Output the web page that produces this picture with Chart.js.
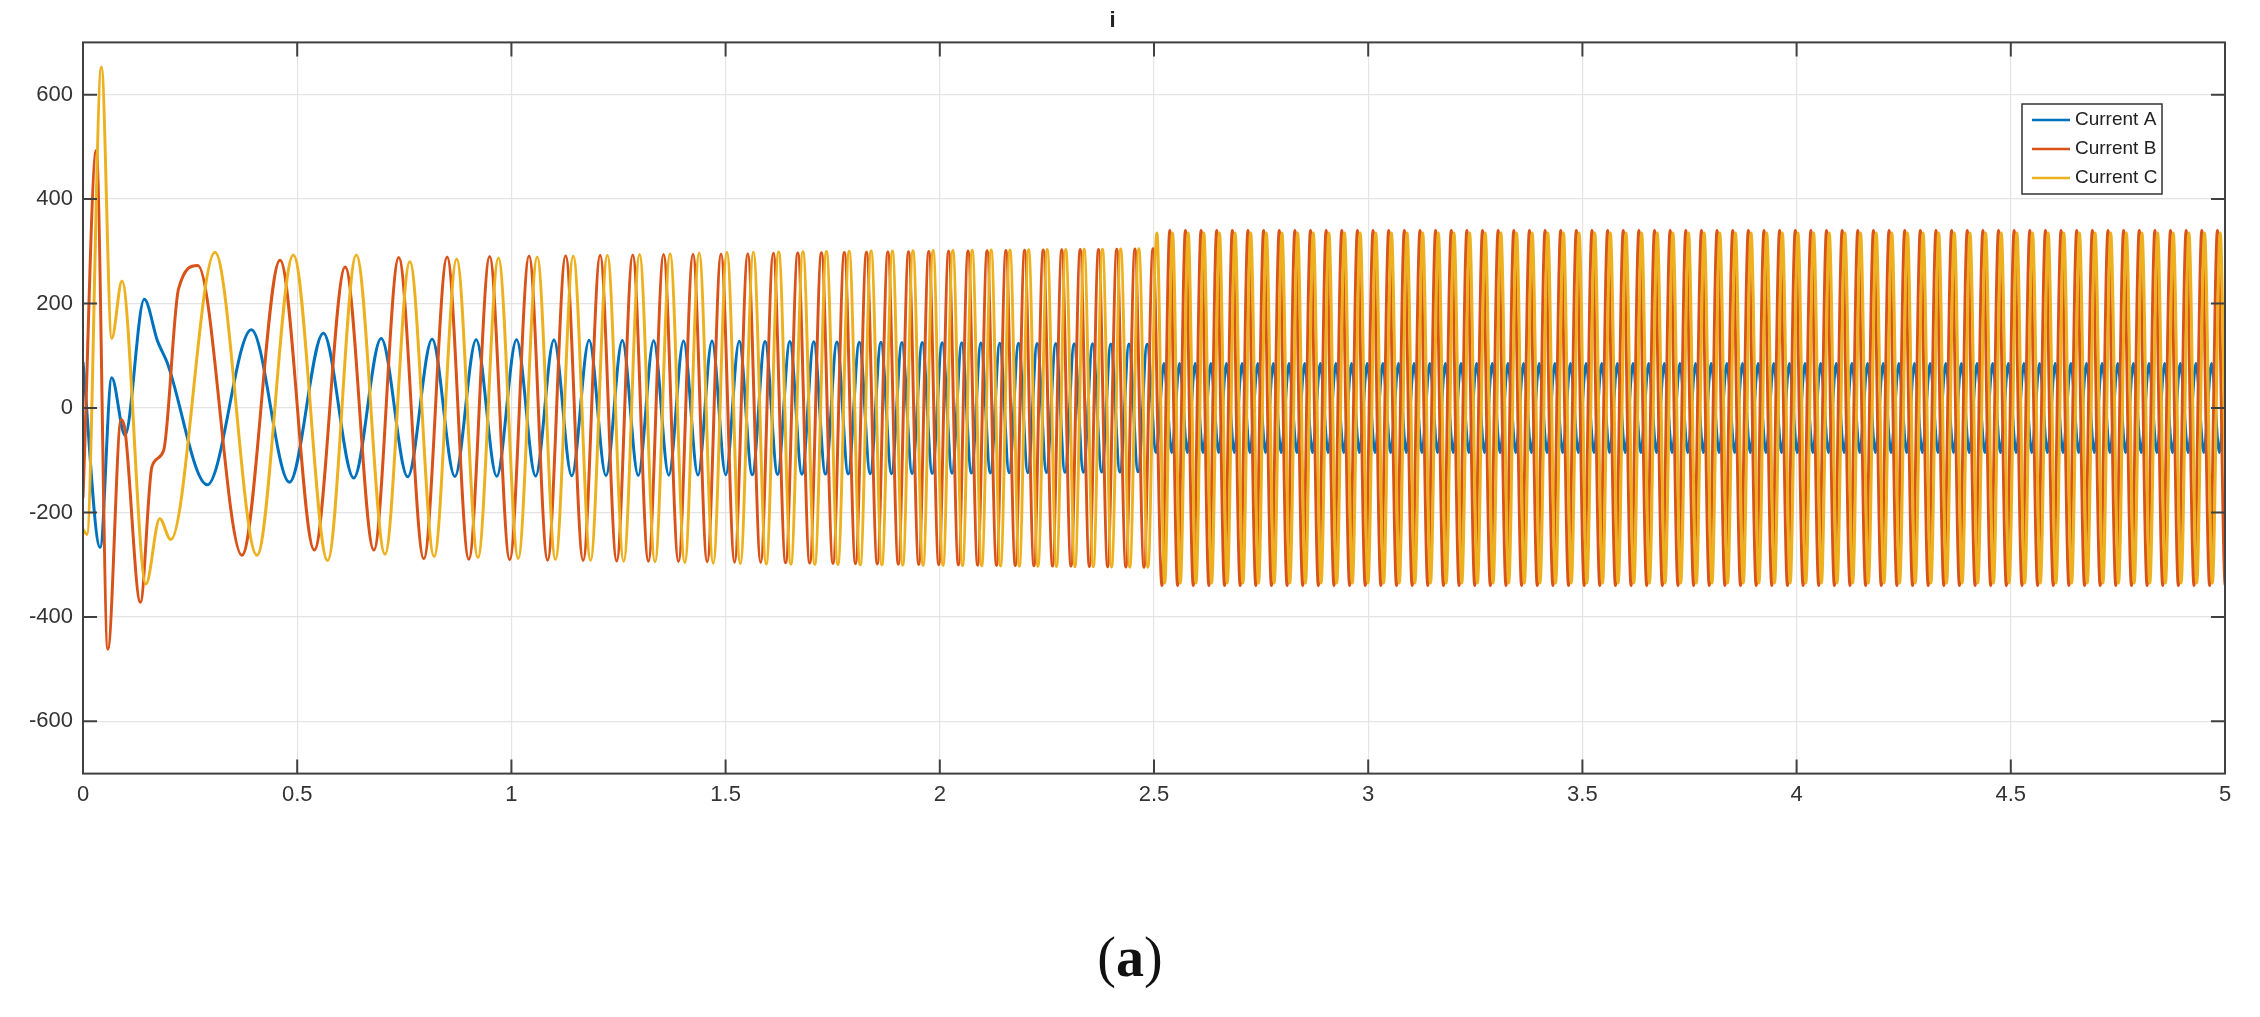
<!DOCTYPE html>
<html lang="en">
<head>
<meta charset="UTF-8">
<title>i</title>
<script src="https://cdn.jsdelivr.net/npm/chart.js"></script>
<style>
  html, body { margin: 0; padding: 0; background: #fff; }
  #wrap { position: relative; width: 2260px; height: 1017px; }
  #chart-box { position: absolute; left: 0; top: 0; width: 2260px; height: 816px; }
  #caption { position: absolute; left: 0; width: 2260px; top: 925px; text-align: center;
             font-family: "Liberation Serif", "DejaVu Serif", serif; font-size: 56px; color: #111; }
</style>
</head>
<body>
<div id="wrap">
  <div id="chart-box"><canvas id="c"></canvas></div>
  <div id="caption">(<b>a</b>)</div>
</div>
<script>
// start-up transient, extrema: [time, value]
const transientA = [[0, 88], [0.04, -267], [0.067, 58], [0.098, -52], [0.143, 208], [0.174, 128], [0.196, 88],
                    [0.29, -147], [0.393, 150], [0.482, -142], [0.561, 143], [0.632, -134], [0.696, 133]];
const transientB = [[0, -172], [0.031, 493], [0.058, -462], [0.089, -22], [0.098, -42], [0.134, -372], [0.161, -112],
                    [0.188, -82], [0.223, 228], [0.268, 273], [0.371, -282], [0.46, 283], [0.54, -272], [0.612, 270],
                    [0.679, -272], [0.737, 288]];
const transientC = [[0, -232], [0.009, -242], [0.043, 653], [0.067, 133], [0.091, 243], [0.147, -337], [0.179, -212],
                    [0.205, -252], [0.308, 298], [0.406, -282], [0.491, 293], [0.571, -292], [0.638, 293],
                    [0.705, -280], [0.763, 280]];

// oscillation period measured at several times (s)
const periodTimes = [0.45, 0.63, 0.75, 0.86, 0.96, 1.05, 1.3, 1.6, 1.9, 2.1, 2.5, 2.5001, 5.1];
const periodValues = [0.168, 0.135, 0.115, 0.100, 0.093, 0.086, 0.072, 0.058, 0.048, 0.044, 0.042, 0.0365, 0.0365];

// peak amplitude of each current over time
const ampTimes = [0.7, 1.5, 2.5, 2.5001, 5.1];
const ampA = [132, 128, 122, 85, 85];
const ampB = [288, 295, 305, 340, 340];
const ampC = [282, 298, 305, 335, 335];

const xTicks = [0, 0.5, 1, 1.5, 2, 2.5, 3, 3.5, 4, 4.5, 5];
const yTicks = [-600, -400, -200, 0, 200, 400, 600];
const seriesNames = ['Current A', 'Current B', 'Current C'];
const seriesColors = ['#0072BD', '#D95319', '#EDB120'];

function lookup(ts, vs, t) {
  if (t <= ts[0]) return vs[0];
  for (let i = 1; i < ts.length; i++) {
    if (t <= ts[i]) {
      const f = (t - ts[i - 1]) / (ts[i] - ts[i - 1]);
      return vs[i - 1] + f * (vs[i] - vs[i - 1]);
    }
  }
  return vs[vs.length - 1];
}

// continue the read extrema with alternating peaks at the measured period / amplitude
function buildSeries(transient, amps) {
  const pts = transient.map(p => ({x: p[0], y: p[1]}));
  let t = transient[transient.length - 1][0];
  let sign = transient[transient.length - 1][1] > 0 ? 1 : -1;
  while (t < 5.05) {
    t += lookup(periodTimes, periodValues, t) / 2;
    sign = -sign;
    pts.push({x: t, y: sign * lookup(ampTimes, amps, t)});
  }
  return pts;
}

const dataA = buildSeries(transientA, ampA);
const dataB = buildSeries(transientB, ampB);
const dataC = buildSeries(transientC, ampC);

const FONT = '"Liberation Sans", Arial, sans-serif';

// MATLAB-like inward ticks, box and inside legend
const matlabFrame = {
  id: 'matlabFrame',
  afterDatasetsDraw(chart) {
    const {ctx, chartArea: a, scales: {x, y}} = chart;
    ctx.save();
    ctx.strokeStyle = '#404040';
    ctx.lineWidth = 2;
    ctx.strokeRect(a.left, a.top, a.right - a.left, a.bottom - a.top);
    ctx.beginPath();
    xTicks.forEach(v => {
      const px = x.getPixelForValue(v);
      ctx.moveTo(px, a.bottom); ctx.lineTo(px, a.bottom - 14);
      ctx.moveTo(px, a.top); ctx.lineTo(px, a.top + 14);
    });
    yTicks.forEach(v => {
      const py = y.getPixelForValue(v);
      ctx.moveTo(a.left, py); ctx.lineTo(a.left + 14, py);
      ctx.moveTo(a.right, py); ctx.lineTo(a.right - 14, py);
    });
    ctx.stroke();

    // legend
    const lx = 2022, ly = 104, lw = 140, lh = 90;
    ctx.fillStyle = '#fff';
    ctx.fillRect(lx, ly, lw, lh);
    ctx.strokeStyle = '#333';
    ctx.lineWidth = 1.5;
    ctx.strokeRect(lx, ly, lw, lh);
    ctx.font = '19px ' + FONT;
    ctx.textBaseline = 'middle';
    seriesNames.forEach((name, i) => {
      const cy = ly + 16 + i * 29;
      ctx.strokeStyle = seriesColors[i];
      ctx.lineWidth = 2.5;
      ctx.beginPath();
      ctx.moveTo(lx + 10, cy); ctx.lineTo(lx + 48, cy);
      ctx.stroke();
      ctx.fillStyle = '#222';
      ctx.fillText(name, lx + 53, cy);
    });
    ctx.restore();
  }
};

new Chart(document.getElementById('c'), {
  type: 'line',
  data: {
    datasets: [dataA, dataB, dataC].map((d, i) => ({
      label: seriesNames[i],
      data: d,
      borderColor: seriesColors[i],
      borderWidth: 3,
      pointRadius: 0,
      fill: false,
      order: 3 - i,
      cubicInterpolationMode: 'monotone'
    }))
  },
  options: {
    responsive: true,
    maintainAspectRatio: false,
    animation: false,
    parsing: false,
    layout: {padding: {left: 0, right: 35, top: 0, bottom: 0}},
    plugins: {
      legend: {display: false},
      tooltip: {enabled: false},
      title: {display: true, text: 'i', color: '#222', font: {family: FONT, size: 22}, padding: {top: 8, bottom: 8}}
    },
    scales: {
      x: {
        type: 'linear', min: 0, max: 5,
        afterBuildTicks: s => { s.ticks = xTicks.map(v => ({value: v})); },
        ticks: {color: '#333', font: {family: FONT, size: 22}, padding: 8, maxRotation: 0,
                callback: v => String(v)},
        grid: {color: '#e4e4e4', lineWidth: 1.2, drawTicks: false},
        border: {display: false}
      },
      y: {
        min: -700, max: 700,
        afterBuildTicks: s => { s.ticks = yTicks.map(v => ({value: v})); },
        afterFit: s => { s.width = 83; },
        ticks: {color: '#333', font: {family: FONT, size: 22}, padding: 10},
        grid: {color: '#e4e4e4', lineWidth: 1.2, drawTicks: false},
        border: {display: false}
      }
    }
  },
  plugins: [matlabFrame]
});
</script>
</body>
</html>
